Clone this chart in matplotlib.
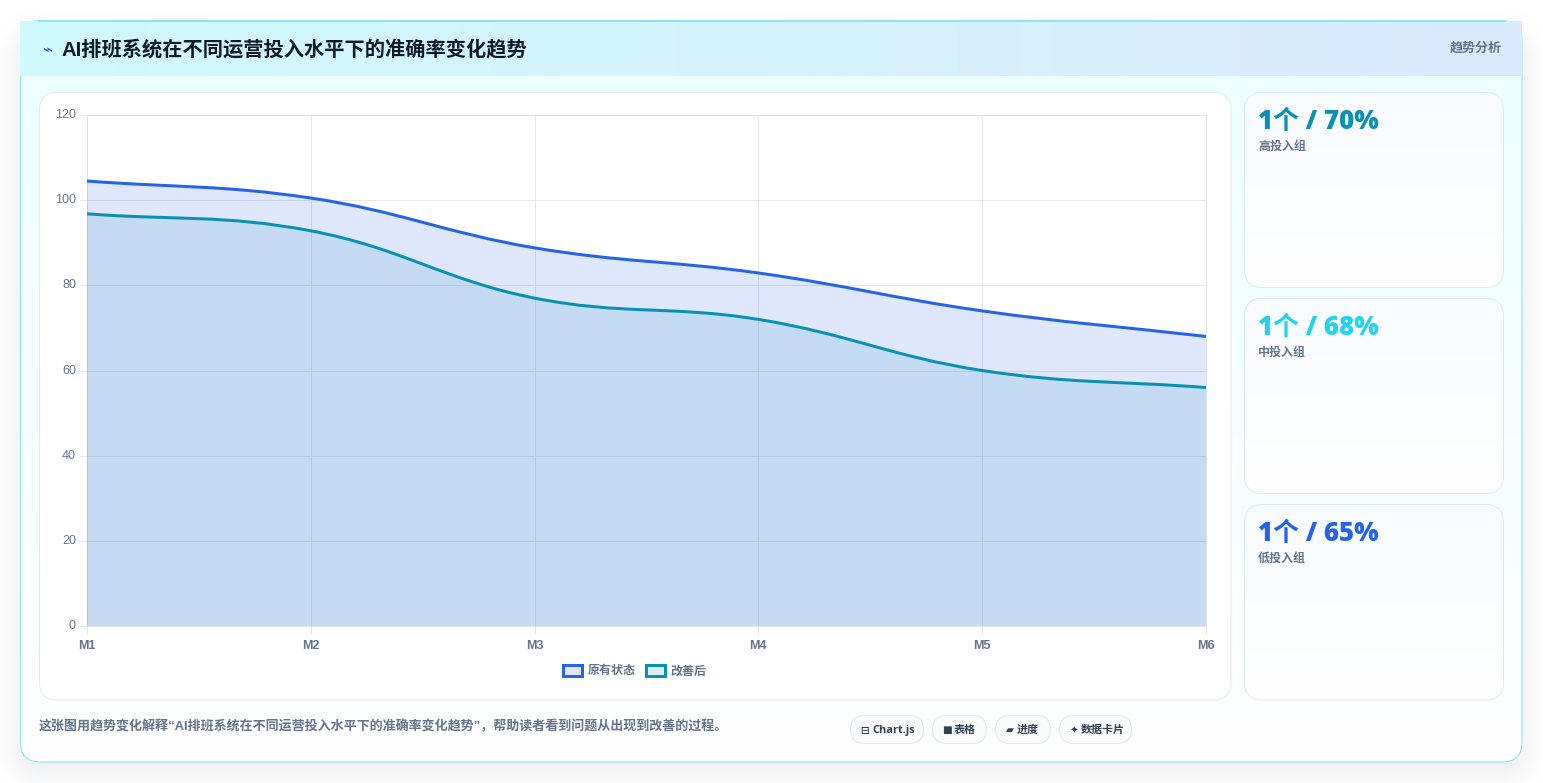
import numpy as np
import matplotlib
matplotlib.use("Agg")
import matplotlib.pyplot as plt
from matplotlib.patches import FancyBboxPatch, PathPatch, Patch
from matplotlib.path import Path

W, H = 1543, 783
PX = 0.72  # one pixel in points at 100 dpi
CJK = ["Noto Sans CJK SC", "DejaVu Sans"]
LATIN_CJK = ["Liberation Sans", "Noto Sans CJK SC", "DejaVu Sans"]
STAT = ["Open Sans", "Noto Sans CJK SC", "DejaVu Sans"]
plt.rcParams["font.family"] = CJK

# Chart data
months = ["M1", "M2", "M3", "M4", "M5", "M6"]
original = [104.5, 100.5, 88.8, 82.9, 74.0, 68.0]
improved = [96.8, 92.8, 77.0, 72.0, 60.0, 56.0]
series_names = ["原有状态", "改善后"]
y_ticks = [0, 20, 40, 60, 80, 100, 120]

# Side cards and captions
stat_values = ["1个 / 70%", "1个 / 68%", "1个 / 65%"]
stat_labels = ["高投入组", "中投入组", "低投入组"]
stat_colors = ["#0891b2", "#22d3ee", "#2563eb"]
title = "AI排班系统在不同运营投入水平下的准确率变化趋势"
badge = "趋势分析"
caption = "这张图用趋势变化解释“AI排班系统在不同运营投入水平下的准确率变化趋势”，帮助读者看到问题从出现到改善的过程。"
pills = [("⊟", "Chart.js"), ("■", "表格"), ("▰", "进度"), ("✦", "数据卡片")]


def hex_rgb(c):
    return np.array(matplotlib.colors.to_rgb(c))


def rounded_sdf(x0, y0, x1, y1, r):
    """Signed distance to a rounded rectangle, sampled at every pixel."""
    yy, xx = np.mgrid[0:H, 0:W] + 0.5
    cx, cy = (x0 + x1) / 2, (y0 + y1) / 2
    qx = np.abs(xx - cx) - ((x1 - x0) / 2 - r)
    qy = np.abs(yy - cy) - ((y1 - y0) / 2 - r)
    return np.hypot(np.maximum(qx, 0), np.maximum(qy, 0)) + np.minimum(np.maximum(qx, qy), 0) - r


def round_box(ax, x0, y0, x1, y1, r, fc, ec, lw=PX, z=2):
    box = FancyBboxPatch((x0, y0), x1 - x0, y1 - y0,
                         boxstyle=f"round,pad=0,rounding_size={r}",
                         facecolor=fc, edgecolor=ec, linewidth=lw, zorder=z)
    ax.add_patch(box)
    return box


def gradient(ax, extent, top, bottom, clip=None, horizontal=False, z=2):
    t = np.linspace(0, 1, 256)
    t = t[None, :, None] if horizontal else t[:, None, None]
    img = hex_rgb(top) * (1 - t) + hex_rgb(bottom) * t
    im = ax.imshow(img, extent=extent, aspect="auto", zorder=z, interpolation="bilinear")
    if clip is not None:
        im.set_clip_path(clip)
    return im


def spline_path(ax, xs, ys, tension=0.4, close_to=None):
    """Cubic path through the points using the cardinal-spline control rule."""
    pts = ax.transData.transform(np.column_stack([xs, ys]))
    n = len(pts)
    prev_cp, next_cp = np.zeros_like(pts), np.zeros_like(pts)
    for i in range(n):
        p0 = pts[max(i - 1, 0)]
        p1 = pts[i]
        p2 = pts[min(i + 1, n - 1)]
        d01, d12 = np.linalg.norm(p1 - p0), np.linalg.norm(p2 - p1)
        total = d01 + d12
        prev_cp[i] = p1 - tension * d01 / total * (p2 - p0)
        next_cp[i] = p1 + tension * d12 / total * (p2 - p0)
    verts = [pts[0]]
    codes = [Path.MOVETO]
    for i in range(n - 1):
        verts += [next_cp[i], prev_cp[i + 1], pts[i + 1]]
        codes += [Path.CURVE4] * 3
    if close_to is not None:
        base = ax.transData.transform([[xs[-1], close_to], [xs[0], close_to]])
        verts += [base[0], base[1], pts[0]]
        codes += [Path.LINETO, Path.LINETO, Path.CLOSEPOLY]
    return Path(ax.transData.inverted().transform(np.array(verts)), codes)


fig = plt.figure(figsize=(W / 100, H / 100), dpi=100, facecolor="white")
bg = fig.add_axes([0, 0, 1, 1], zorder=0)
bg.set_xlim(0, W)
bg.set_ylim(H, 0)
bg.axis("off")

# Page with the soft drop shadow under the card
sdf = rounded_sdf(20, 38, 1522, 772, 22)
shadow = np.clip(0.5 - sdf / 64, 0, 1)
shadow = shadow * shadow * (3 - 2 * shadow) * 0.095
page = np.ones((H, W, 3)) * (1 - shadow[..., None]) + hex_rgb("#0f172a") * shadow[..., None]
bg.imshow(page, extent=(0, W, H, 0), aspect="auto", zorder=0, interpolation="nearest")
bg.set_xlim(0, W)
bg.set_ylim(H, 0)

# Card body, header band and outline
body = round_box(bg, 20.5, 20.5, 1522, 762, 20, "none", "none", z=1)
gradient(bg, (20, 1522, 762, 76), "#ecfeff", "#ffffff", clip=body, z=1)
round_box(bg, 20.5, 20.5, 1522, 762, 20, "none", "#8fe3ef", z=2)
gradient(bg, (20, 1522, 76, 21), "#cffafe", "#dbeafe", horizontal=True, z=3)
bg.plot([38, 1505], [20.8, 20.8], color="#8ae5f2", lw=PX, zorder=3)

bg.text(47.5, 50, "⌁", color="#2563eb", fontsize=12, ha="center", va="center", zorder=5,
        family=["DejaVu Sans"])
bg.text(62, 50.5, title, color="#0f172a", fontsize=14.55, fontweight="bold",
        family=LATIN_CJK, ha="left", va="center", zorder=5)
bg.text(1502, 48, badge, color="#64748b", fontsize=9.36, fontweight="bold", ha="right", va="center", zorder=5)

# Chart panel and side cards
round_box(bg, 39.5, 92.5, 1231, 700, 18, "white", "#e2ebf2", z=4)
for top, bottom, value, label, color in zip((92.5, 298.5, 504.5), (287.5, 493.5, 700),
                                            stat_values, stat_labels, stat_colors):
    edge = round_box(bg, 1244.5, top, 1503.5, bottom, 18, "none", "none", z=4)
    gradient(bg, (1244, 1504, bottom, top), "#f8fbff", "#ffffff", clip=edge, z=4)
    round_box(bg, 1244.5, top, 1503.5, bottom, 18, "none", "#dbeafe", z=5)
    bg.text(1258, top + 29.5, value, color=color, fontsize=18.6, fontweight="heavy",
            family=STAT, ha="left", va="center", zorder=6)
    bg.text(1258, top + 54, label, color="#64748b", fontsize=8.64, fontweight="bold",
            ha="left", va="center", zorder=6)

bg.text(39, 727, caption, color="#64748b", fontsize=9.36, fontweight="bold", family=LATIN_CJK,
        ha="left", va="center", zorder=6)

# Technology pills under the chart
pill_spans = [(850.5, 923.5), (932.5, 986.5), (995.5, 1050.5), (1059.5, 1131.5)]
for (x0, x1), (icon, text) in zip(pill_spans, pills):
    round_box(bg, x0, 715.5, x1, 743.5, 14, "#f8fafc", "#e2e8f0", z=5)
    bg.text(x0 + 14, 730.5, icon, color="#334155", fontsize=7.5, ha="center", va="center",
            family=["DejaVu Sans"], fontweight="bold", zorder=6)
    bg.text(x0 + 21.5, 730.5, text, color="#334155", fontsize=7.92, fontweight="bold",
            family=["Open Sans", "Noto Sans CJK SC"], ha="left", va="center", zorder=6)

# Line chart drawn on a point scale so M1 and M6 sit on the plot edges
left, right, top_px, bottom_px = 87, 1206, 115, 626
ax = fig.add_axes([left / W, 1 - bottom_px / H, (right - left) / W, (bottom_px - top_px) / H], zorder=2)
ax.patch.set_alpha(0)
x = np.arange(len(months))
ax.set_xlim(0, len(months) - 1)
ax.set_ylim(0, 120)
ax.set_xticks(x, months)
ax.set_yticks(y_ticks)
ax.grid(True, color="#e5e7eb", linewidth=PX, zorder=0)
ax.set_axisbelow(True)
for spine in ax.spines.values():
    spine.set_color("#dfe2e7")
    spine.set_linewidth(PX)
ax.tick_params(axis="both", length=8 * PX, width=PX, color="#e5e7eb")
ax.tick_params(axis="y", pad=2.2)
ax.tick_params(axis="x", pad=4)
for lab in ax.get_yticklabels():
    lab.set(family=LATIN_CJK, fontsize=9, color="#64748b", va="center")
for lab in ax.get_xticklabels():
    lab.set(family=LATIN_CJK, fontsize=9, color="#64748b", fontweight="bold")

fills = {"#0891b2": 0.12, "#2563eb": 0.15}
for values, color, z in ((improved, "#0891b2", 3), (original, "#2563eb", 4)):
    ax.add_patch(PathPatch(spline_path(ax, x, values, close_to=0), facecolor=color, alpha=fills[color],
                           edgecolor="none", zorder=z))
    ax.add_patch(PathPatch(spline_path(ax, x, values), facecolor="none", edgecolor=color,
                           linewidth=3 * PX, zorder=z + 2, capstyle="round", joinstyle="round"))

handles = [Patch(facecolor=matplotlib.colors.to_rgba(c, 0.15), edgecolor=c, linewidth=3 * PX)
           for c in ("#2563eb", "#0891b2")]
leg = ax.legend(handles, series_names, ncol=2, frameon=False, loc="center",
                bbox_to_anchor=(0.4895, -0.088), handlelength=1.62, handleheight=0.95, handletextpad=0.5,
                columnspacing=0.8, borderpad=0, borderaxespad=0,
                prop={"family": CJK, "size": 8.64, "weight": "bold"})
for t in leg.get_texts():
    t.set_color("#64748b")

fig.savefig("out.png", dpi=100, facecolor="white")
